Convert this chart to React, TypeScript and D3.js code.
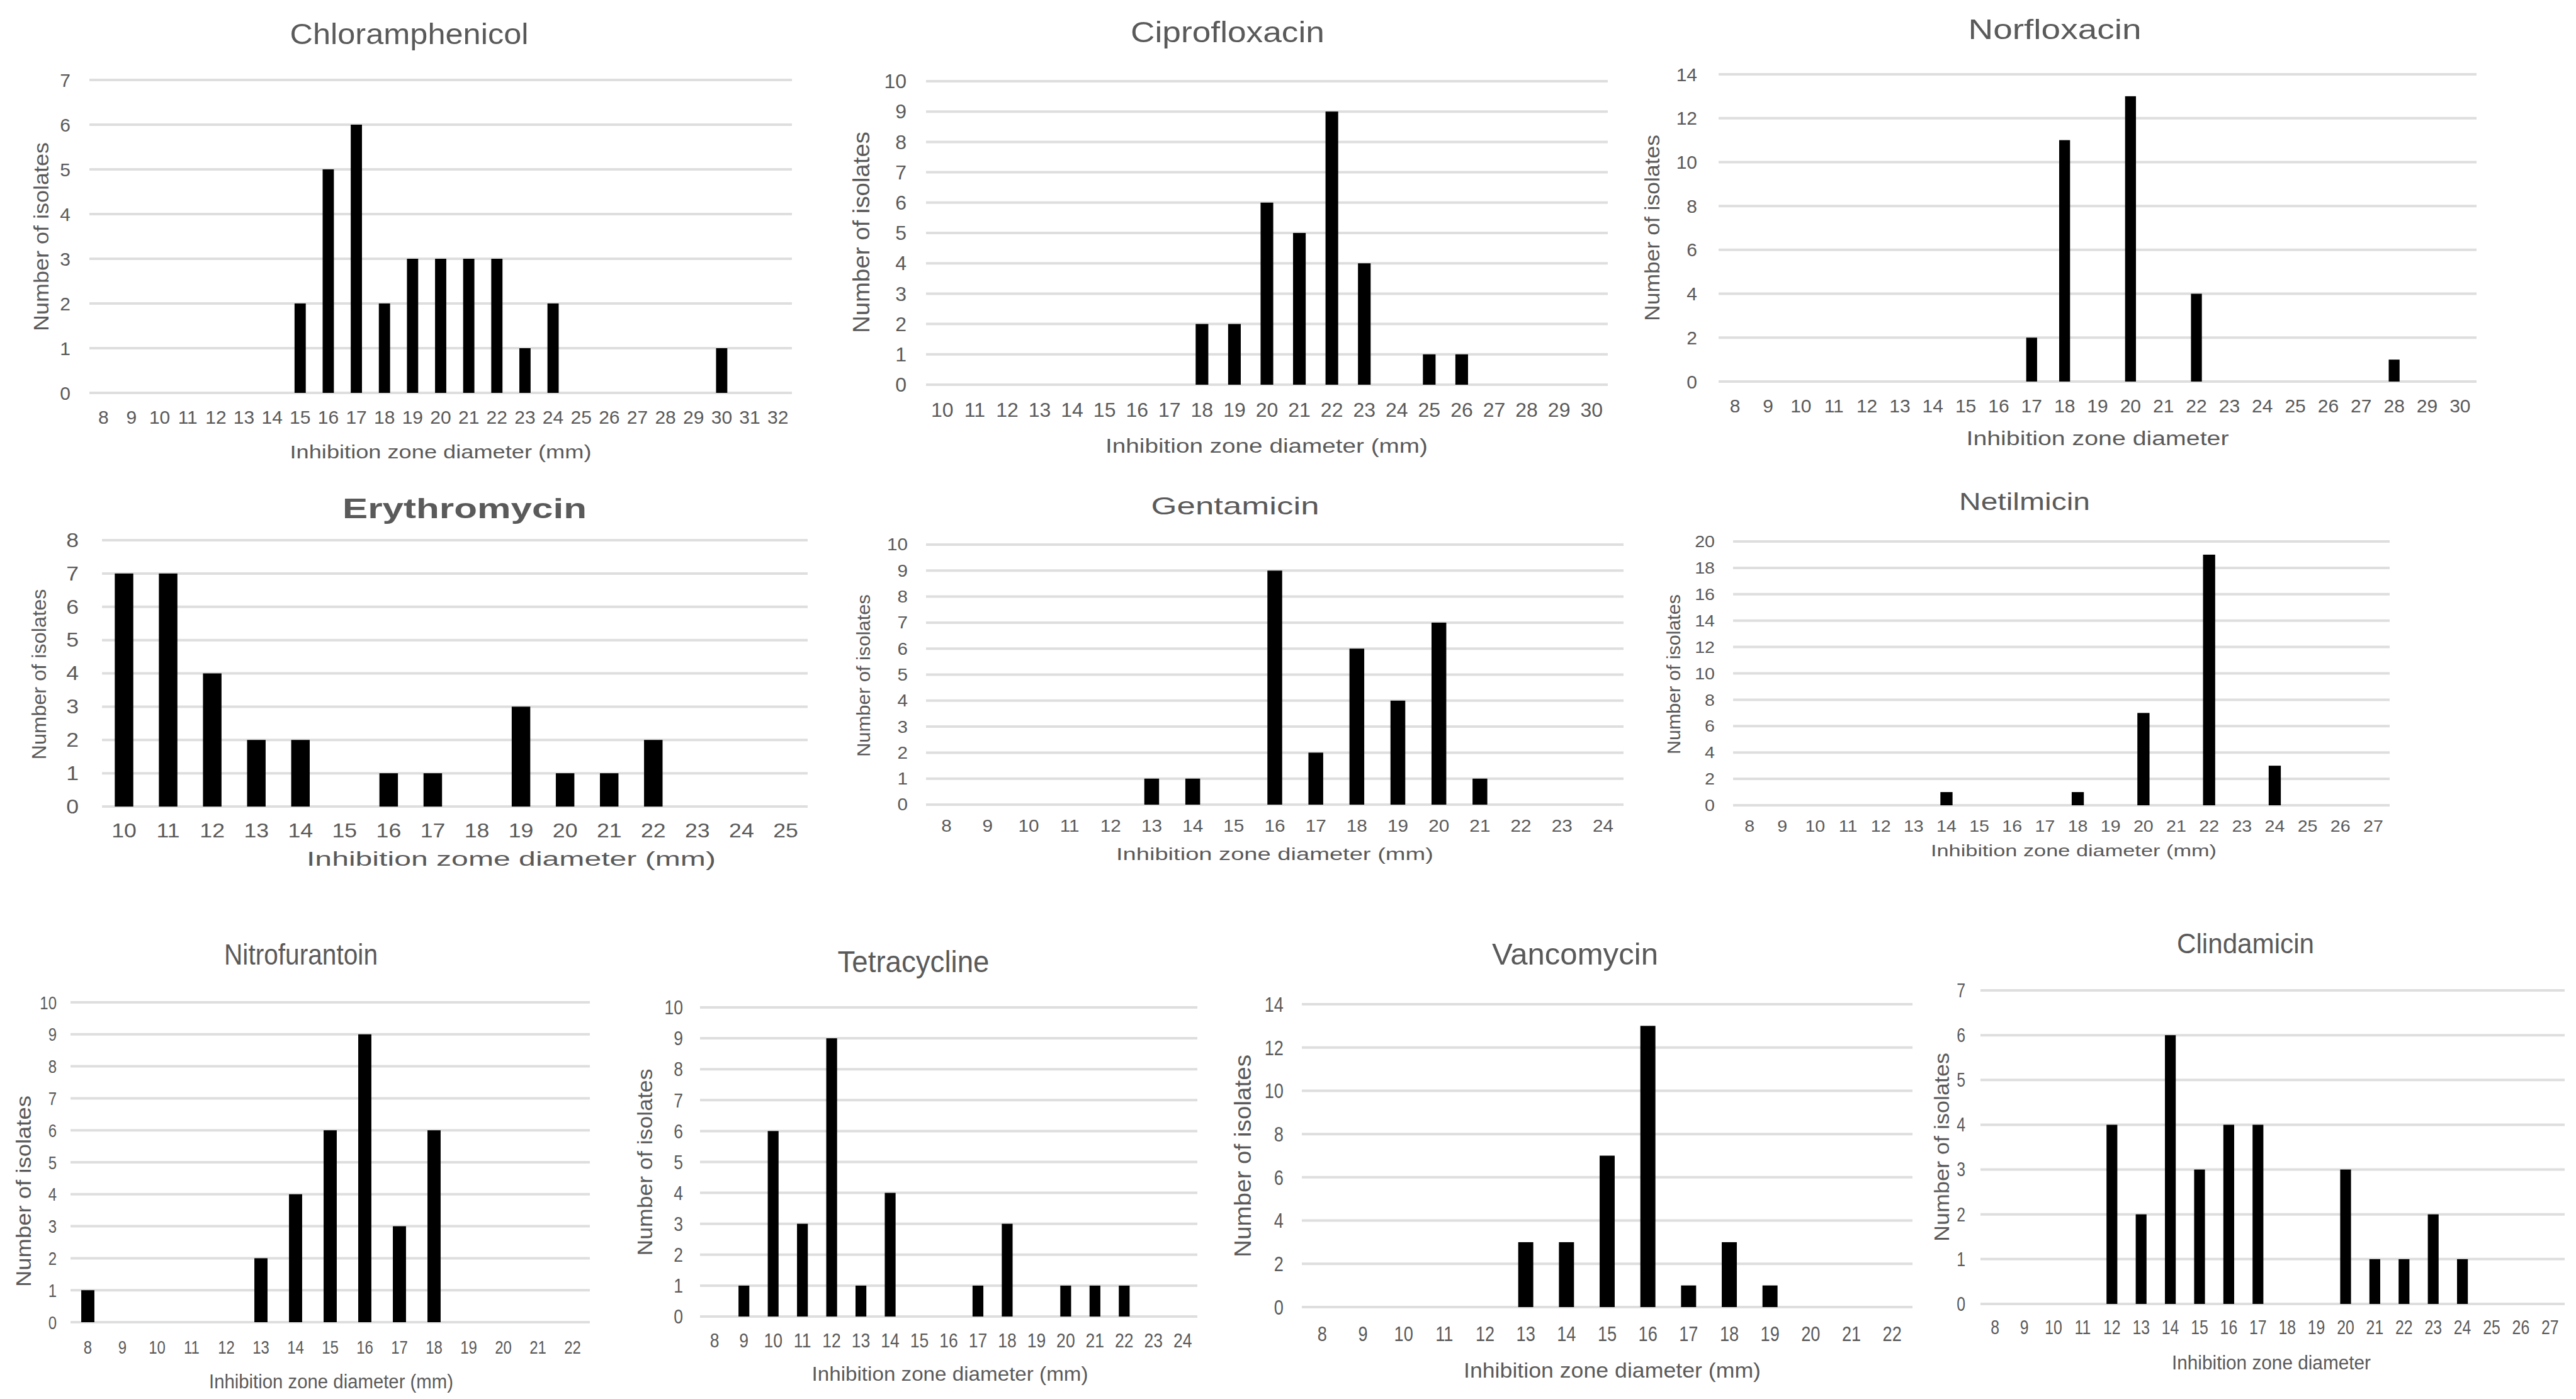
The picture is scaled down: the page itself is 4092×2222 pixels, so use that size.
import * as d3 from "d3";

// ---- data ----
const chloramphenicolZones = ["8", "9", "10", "11", "12", "13", "14", "15", "16", "17", "18", "19", "20", "21", "22", "23", "24", "25", "26", "27", "28", "29", "30", "31", "32"];
const chloramphenicolCounts = [0, 0, 0, 0, 0, 0, 0, 2, 5, 6, 2, 3, 3, 3, 3, 1, 2, 0, 0, 0, 0, 0, 1, 0, 0];
const chloramphenicolTicks = [0, 1, 2, 3, 4, 5, 6, 7];

const ciprofloxacinZones = ["10", "11", "12", "13", "14", "15", "16", "17", "18", "19", "20", "21", "22", "23", "24", "25", "26", "27", "28", "29", "30"];
const ciprofloxacinCounts = [0, 0, 0, 0, 0, 0, 0, 0, 2, 2, 6, 5, 9, 4, 0, 1, 1, 0, 0, 0, 0];
const ciprofloxacinTicks = [0, 1, 2, 3, 4, 5, 6, 7, 8, 9, 10];

const norfloxacinZones = ["8", "9", "10", "11", "12", "13", "14", "15", "16", "17", "18", "19", "20", "21", "22", "23", "24", "25", "26", "27", "28", "29", "30"];
const norfloxacinCounts = [0, 0, 0, 0, 0, 0, 0, 0, 0, 2, 11, 0, 13, 0, 4, 0, 0, 0, 0, 0, 1, 0, 0];
const norfloxacinTicks = [0, 2, 4, 6, 8, 10, 12, 14];

const erythromycinZones = ["10", "11", "12", "13", "14", "15", "16", "17", "18", "19", "20", "21", "22", "23", "24", "25"];
const erythromycinCounts = [7, 7, 4, 2, 2, 0, 1, 1, 0, 3, 1, 1, 2, 0, 0, 0];
const erythromycinTicks = [0, 1, 2, 3, 4, 5, 6, 7, 8];

const gentamicinZones = ["8", "9", "10", "11", "12", "13", "14", "15", "16", "17", "18", "19", "20", "21", "22", "23", "24"];
const gentamicinCounts = [0, 0, 0, 0, 0, 1, 1, 0, 9, 2, 6, 4, 7, 1, 0, 0, 0];
const gentamicinTicks = [0, 1, 2, 3, 4, 5, 6, 7, 8, 9, 10];

const netilmicinZones = ["8", "9", "10", "11", "12", "13", "14", "15", "16", "17", "18", "19", "20", "21", "22", "23", "24", "25", "26", "27"];
const netilmicinCounts = [0, 0, 0, 0, 0, 0, 1, 0, 0, 0, 1, 0, 7, 0, 19, 0, 3, 0, 0, 0];
const netilmicinTicks = [0, 2, 4, 6, 8, 10, 12, 14, 16, 18, 20];

const nitrofurantoinZones = ["8", "9", "10", "11", "12", "13", "14", "15", "16", "17", "18", "19", "20", "21", "22"];
const nitrofurantoinCounts = [1, 0, 0, 0, 0, 2, 4, 6, 9, 3, 6, 0, 0, 0, 0];
const nitrofurantoinTicks = [0, 1, 2, 3, 4, 5, 6, 7, 8, 9, 10];

const tetracyclineZones = ["8", "9", "10", "11", "12", "13", "14", "15", "16", "17", "18", "19", "20", "21", "22", "23", "24"];
const tetracyclineCounts = [0, 1, 6, 3, 9, 1, 4, 0, 0, 1, 3, 0, 1, 1, 1, 0, 0];
const tetracyclineTicks = [0, 1, 2, 3, 4, 5, 6, 7, 8, 9, 10];

const vancomycinZones = ["8", "9", "10", "11", "12", "13", "14", "15", "16", "17", "18", "19", "20", "21", "22"];
const vancomycinCounts = [0, 0, 0, 0, 0, 3, 3, 7, 13, 1, 3, 1, 0, 0, 0];
const vancomycinTicks = [0, 2, 4, 6, 8, 10, 12, 14];

const clindamicinZones = ["8", "9", "10", "11", "12", "13", "14", "15", "16", "17", "18", "19", "20", "21", "22", "23", "24", "25", "26", "27"];
const clindamicinCounts = [0, 0, 0, 0, 4, 2, 6, 3, 4, 4, 0, 0, 3, 1, 1, 2, 1, 0, 0, 0];
const clindamicinTicks = [0, 1, 2, 3, 4, 5, 6, 7];

const yTitle = "Number of isolates";
const xTitleMm = "Inhibition zone diameter (mm)";
const xTitlePlain = "Inhibition zone diameter";
const xTitleTypo = "Inhibition zome diameter (mm)";

// ---- layout of each small chart on the page ----
const panels = [
  { title: "Chloramphenicol", zones: chloramphenicolZones, counts: chloramphenicolCounts, ticks: chloramphenicolTicks, xTitle: xTitleMm,
    x0: 142, x1: 1258, y0: 624, yTop: 127, bar: 0.4,
    titleX: 650, titleBase: 70, titleSize: 47, titleW: 379,
    tickSize: 30, tickSx: 1.0, tickY: 662, yLabRight: 112,
    axisX: 700, axisBase: 728, axisSize: 30, axisW: 479,
    yTx: 65, yTy: 376, yTSize: 34, yTLen: 300 },
  { title: "Ciprofloxacin", zones: ciprofloxacinZones, counts: ciprofloxacinCounts, ticks: ciprofloxacinTicks, xTitle: xTitleMm,
    x0: 1471, x1: 2554, y0: 611, yTop: 129, bar: 0.39,
    titleX: 1950, titleBase: 67, titleSize: 47, titleW: 308,
    tickSize: 32, tickSx: 1.0, tickY: 651, yLabRight: 1440,
    axisX: 2012, axisBase: 719, axisSize: 31, axisW: 512,
    yTx: 1368, yTy: 369, yTSize: 36, yTLen: 320 },
  { title: "Norfloxacin", zones: norfloxacinZones, counts: norfloxacinCounts, ticks: norfloxacinTicks, xTitle: xTitlePlain,
    x0: 2730, x1: 3934, y0: 606, yTop: 118, bar: 0.33,
    titleX: 3264, titleBase: 62, titleSize: 44, titleW: 275,
    tickSize: 30, tickSx: 1.0, tickY: 644, yLabRight: 2696,
    axisX: 3332, axisBase: 707, axisSize: 31, axisW: 417,
    yTx: 2624, yTy: 362, yTSize: 34, yTLen: 296 },
  { title: "Erythromycin", bold: true, zones: erythromycinZones, counts: erythromycinCounts, ticks: erythromycinTicks, xTitle: xTitleTypo,
    x0: 162, x1: 1283, y0: 1281, yTop: 858, bar: 0.42,
    titleX: 738, titleBase: 823, titleSize: 44, titleW: 388,
    tickSize: 31, tickSx: 1.15, tickY: 1319, yLabRight: 125,
    axisX: 812, axisBase: 1375, axisSize: 31, axisW: 650,
    yTx: 62, yTy: 1071, yTSize: 32, yTLen: 271 },
  { title: "Gentamicin", zones: gentamicinZones, counts: gentamicinCounts, ticks: gentamicinTicks, xTitle: xTitleMm,
    x0: 1471, x1: 2579, y0: 1278, yTop: 865, bar: 0.36,
    titleX: 1962, titleBase: 817, titleSize: 39, titleW: 267,
    tickSize: 27, tickSx: 1.1, tickY: 1312, yLabRight: 1442,
    axisX: 2025, axisBase: 1366, axisSize: 27, axisW: 504,
    yTx: 1371, yTy: 1073, yTSize: 30, yTLen: 258 },
  { title: "Netilmicin", zones: netilmicinZones, counts: netilmicinCounts, ticks: netilmicinTicks, xTitle: xTitleMm,
    x0: 2753, x1: 3796, y0: 1279, yTop: 860, bar: 0.37,
    titleX: 3216, titleBase: 810, titleSize: 38, titleW: 208,
    tickSize: 26, tickSx: 1.1, tickY: 1312, yLabRight: 2724,
    axisX: 3294, axisBase: 1360, axisSize: 26, axisW: 454,
    yTx: 2658, yTy: 1071, yTSize: 30, yTLen: 254 },
  { title: "Nitrofurantoin", zones: nitrofurantoinZones, counts: nitrofurantoinCounts, ticks: nitrofurantoinTicks, xTitle: xTitleMm,
    x0: 112, x1: 937, y0: 2100, yTop: 1592, bar: 0.38,
    titleX: 478, titleBase: 1532, titleSize: 47, titleW: 244,
    tickSize: 30, tickSx: 0.8, tickY: 2139, yLabRight: 90,
    axisX: 526, axisBase: 2205, axisSize: 31, axisW: 388,
    yTx: 37, yTy: 1892, yTSize: 34, yTLen: 304 },
  { title: "Tetracycline", zones: tetracyclineZones, counts: tetracyclineCounts, ticks: tetracyclineTicks, xTitle: xTitleMm,
    x0: 1112, x1: 1902, y0: 2091, yTop: 1600, bar: 0.37,
    titleX: 1451, titleBase: 1544, titleSize: 48, titleW: 241,
    tickSize: 32, tickSx: 0.83, tickY: 2129, yLabRight: 1085,
    axisX: 1509, axisBase: 2193, axisSize: 32, axisW: 439,
    yTx: 1024, yTy: 1846, yTSize: 34, yTLen: 297 },
  { title: "Vancomycin", zones: vancomycinZones, counts: vancomycinCounts, ticks: vancomycinTicks, xTitle: xTitleMm,
    x0: 2068, x1: 3038, y0: 2076, yTop: 1595, bar: 0.37,
    titleX: 2502, titleBase: 1532, titleSize: 49, titleW: 264,
    tickSize: 34, tickSx: 0.8, tickY: 2118, yLabRight: 2039,
    axisX: 2561, axisBase: 2188, axisSize: 33, axisW: 472,
    yTx: 1974, yTy: 1836, yTSize: 36, yTLen: 322 },
  { title: "Clindamicin", zones: clindamicinZones, counts: clindamicinCounts, ticks: clindamicinTicks, xTitle: xTitlePlain,
    x0: 3146, x1: 4074, y0: 2071, yTop: 1573, bar: 0.37,
    titleX: 3567, titleBase: 1514, titleSize: 45, titleW: 218,
    tickSize: 31, tickSx: 0.8, tickY: 2108, yLabRight: 3122,
    axisX: 3608, axisBase: 2175, axisSize: 31, axisW: 316,
    yTx: 3084, yTy: 1822, yTSize: 34, yTLen: 300 },
];

const TEXT = "#5a5a5a";
const GRID = "#dedede";
const FONT = "'Liberation Sans', Arial, sans-serif";

const Panel = ({ p }: { p: any }) => {
  const x = d3.scaleBand<string>().domain(p.zones).range([p.x0, p.x1]).padding(0);
  const y = d3.scaleLinear().domain([0, d3.max(p.ticks as number[])!]).range([p.y0, p.yTop]);
  const bw = x.bandwidth() * p.bar;

  return (
    <g fontFamily={FONT} fill={TEXT}>
      <text x={p.titleX} y={p.titleBase} textAnchor="middle" fontSize={p.titleSize}
        fontWeight={p.bold ? "bold" : "normal"} textLength={p.titleW} lengthAdjust="spacingAndGlyphs">
        {p.title}
      </text>

      {/* gridlines + y labels */}
      {p.ticks.map((t: number) => (
        <g key={t}>
          <line x1={p.x0} x2={p.x1} y1={y(t)} y2={y(t)} stroke={GRID} strokeWidth={4} />
          <text transform={`translate(${p.yLabRight},${y(t)}) scale(${p.tickSx},1)`} dy="0.35em"
            textAnchor="end" fontSize={p.tickSize}>{t}</text>
        </g>
      ))}

      {/* bars */}
      {p.zones.map((z: string, i: number) =>
        p.counts[i] > 0 ? (
          <rect key={z} x={x(z)! + (x.bandwidth() - bw) / 2} width={bw}
            y={y(p.counts[i])} height={y(0) - y(p.counts[i])} fill="#000" />
        ) : null
      )}

      {/* x labels */}
      {p.zones.map((z: string) => (
        <text key={z} transform={`translate(${x(z)! + x.bandwidth() / 2},${p.tickY}) scale(${p.tickSx},1)`}
          dy="0.35em" textAnchor="middle" fontSize={p.tickSize}>{z}</text>
      ))}

      <text x={p.axisX} y={p.axisBase} textAnchor="middle" fontSize={p.axisSize}
        textLength={p.axisW} lengthAdjust="spacingAndGlyphs">{p.xTitle}</text>

      <text transform={`translate(${p.yTx},${p.yTy}) rotate(-90)`} dy="0.35em" textAnchor="middle"
        fontSize={p.yTSize} textLength={p.yTLen} lengthAdjust="spacingAndGlyphs">{yTitle}</text>
    </g>
  );
};

export default function App() {
  return (
    <svg width={4092} height={2222} style={{ position: "absolute", left: 0, top: 0, background: "#fff" }}>
      <rect width={4092} height={2222} fill="#fff" />
      {panels.map((p) => <Panel key={p.title} p={p} />)}
    </svg>
  );
}
